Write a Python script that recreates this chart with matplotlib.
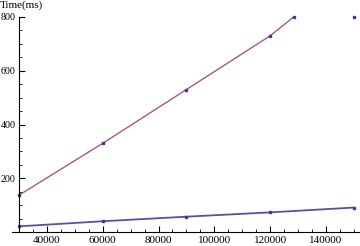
import numpy as np
import matplotlib.pyplot as plt
from matplotlib.ticker import MultipleLocator

# данные
n_values = [30000, 60000, 90000, 120000, 150000]
time_fast = [21, 40, 57, 73, 91]
time_slow = [137, 330, 530, 730, 980]

x_ticks = [40000, 60000, 80000, 100000, 120000, 140000]
y_ticks = [200, 400, 600, 800]

blue = '#5252a6'
purple = '#a8578a'
marker_col = '#3a3a9a'

plt.rcParams['font.family'] = ['Liberation Serif', 'DejaVu Serif']

fig = plt.figure(figsize=(3.6, 2.46), dpi=100)
ax = fig.add_axes([12 / 360, 14 / 246, 348 / 360, 215 / 246])

ymax = 800
ax.set_xlim(27500, 152200)
ax.set_ylim(0, ymax)

# линии (обрезаются по верхней границе)
ax.plot(n_values, time_fast, color=blue, lw=1.3, solid_capstyle='butt')
ax.plot(n_values, time_slow, color=purple, lw=1.0)

# точки, выходящие за пределы, рисуются на краю
slow_arr = np.array(time_slow)
ax.plot(n_values, time_fast, 's', ms=1.8, color=marker_col, clip_on=False)
ax.plot(n_values, np.minimum(slow_arr, ymax), 's', ms=1.8, color=marker_col, clip_on=False)
x_cross = np.interp(ymax, slow_arr, n_values)
ax.plot([x_cross], [ymax], 's', ms=1.8, color=marker_col, clip_on=False)

# оси в стиле Mathematica
for s in ['top', 'right']:
    ax.spines[s].set_visible(False)
ax.spines['left'].set_position(('data', 30000))
ax.spines['left'].set_linewidth(0.8)
ax.spines['bottom'].set_linewidth(0.8)

ax.set_xticks(x_ticks)
ax.set_yticks(y_ticks)
ax.xaxis.set_minor_locator(MultipleLocator(5000))
ax.yaxis.set_minor_locator(MultipleLocator(50))
ax.tick_params(which='major', direction='in', length=4, width=0.8, pad=3)
ax.tick_params(which='minor', direction='in', length=2.3, width=0.6)
ax.tick_params(axis='x', labelsize=8)
ax.tick_params(axis='y', labelsize=7.2, pad=2.5)

fig.text(0.0, 0.998, 'Time(ms)', ha='left', va='top', fontsize=8)

fig.savefig('out.png', dpi=100)
